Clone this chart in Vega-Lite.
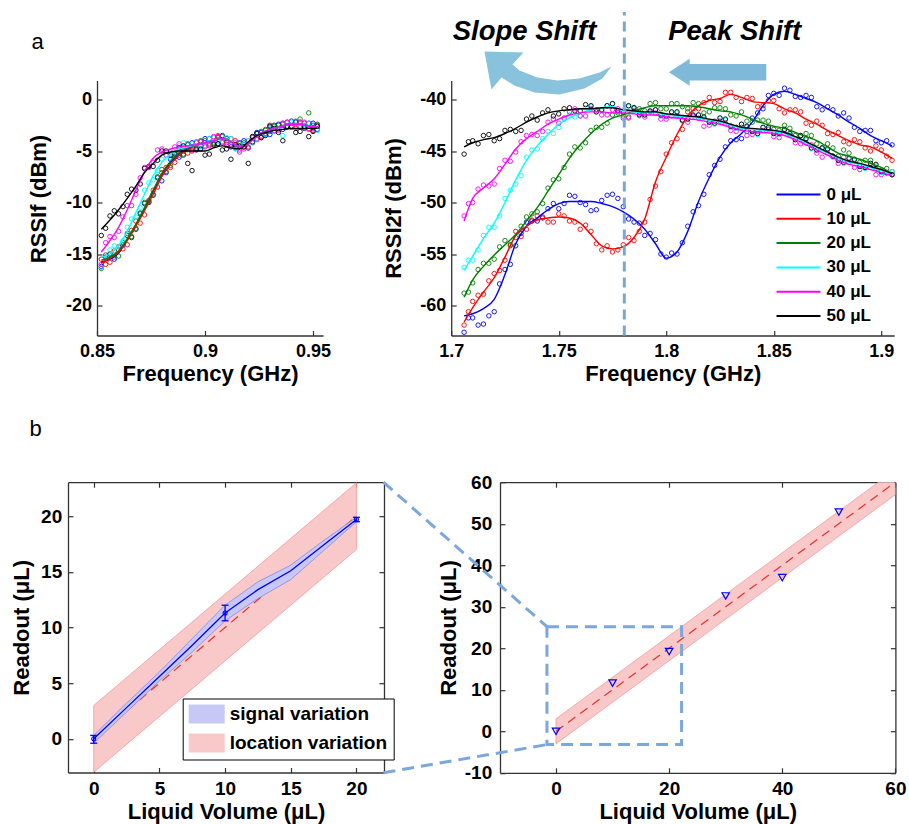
{
"$schema": "https://vega.github.io/schema/vega-lite/v6.json",
"background": "white",
"padding": {"left": 10, "top": 9.5, "right": 4, "bottom": 4},
"autosize": {"type": "pad"},
"config": {
  "view": {"stroke": null},
  "font": "Liberation Sans",
  "locale": {"number": {"decimal": ".", "thousands": ",", "grouping": [3], "currency": ["$", ""], "minus": "-"}},
  "axis": {"grid": false, "labelFont": "Liberation Sans", "labelFontWeight": "bold", "labelColor": "#000", "labelFontSize": 18, "titleFont": "Liberation Sans", "titleFontWeight": "bold", "titleColor": "#000", "titleFontSize": 22, "domainColor": "#333", "domainWidth": 1.3, "tickColor": "#333", "tickWidth": 1.2, "tickSize": -5, "labelFlush": false, "labelOverlap": false}
},
"datasets": {
"tl": [
{"s":"0 μL","f":0.852,"y":-15.8,"o":-16.2},{"s":"0 μL","f":0.856,"y":-15.5,"o":-15.0},{"s":"0 μL","f":0.86,"y":-14.9,"o":-14.6},{"s":"0 μL","f":0.864,"y":-13.6,"o":-13.2},{"s":"0 μL","f":0.868,"y":-12.2,"o":-12.6},{"s":"0 μL","f":0.872,"y":-10.6,"o":-10.1},{"s":"0 μL","f":0.876,"y":-8.9,"o":-9.3},{"s":"0 μL","f":0.88,"y":-7.3,"o":-7.9},{"s":"0 μL","f":0.884,"y":-6.1,"o":-5.8},{"s":"0 μL","f":0.888,"y":-5.3,"o":-5.6},{"s":"0 μL","f":0.892,"y":-4.8,"o":-4.4},{"s":"0 μL","f":0.896,"y":-4.4,"o":-4.9},{"s":"0 μL","f":0.9,"y":-4.2,"o":-3.8},{"s":"0 μL","f":0.904,"y":-4.0,"o":-4.3},{"s":"0 μL","f":0.908,"y":-3.8,"o":-3.5},{"s":"0 μL","f":0.912,"y":-4.1,"o":-4.6},{"s":"0 μL","f":0.916,"y":-4.6,"o":-4.2},{"s":"0 μL","f":0.92,"y":-4.3,"o":-4.7},{"s":"0 μL","f":0.924,"y":-3.5,"o":-3.2},{"s":"0 μL","f":0.928,"y":-3.1,"o":-3.4},{"s":"0 μL","f":0.932,"y":-2.8,"o":-2.5},{"s":"0 μL","f":0.936,"y":-2.6,"o":-2.9},{"s":"0 μL","f":0.94,"y":-2.4,"o":-2.1},{"s":"0 μL","f":0.944,"y":-2.4,"o":-2.7},{"s":"0 μL","f":0.948,"y":-2.6,"o":-2.3},{"s":"0 μL","f":0.952,"y":-2.7,"o":-2.9},
{"s":"10 μL","f":0.852,"y":-15.9,"o":-15.5},{"s":"10 μL","f":0.856,"y":-15.4,"o":-15.8},{"s":"10 μL","f":0.86,"y":-14.8,"o":-14.3},{"s":"10 μL","f":0.864,"y":-13.7,"o":-14.1},{"s":"10 μL","f":0.868,"y":-12.3,"o":-11.8},{"s":"10 μL","f":0.872,"y":-10.8,"o":-11.2},{"s":"10 μL","f":0.876,"y":-9.2,"o":-8.8},{"s":"10 μL","f":0.88,"y":-7.5,"o":-7.1},{"s":"10 μL","f":0.884,"y":-6.3,"o":-6.6},{"s":"10 μL","f":0.888,"y":-5.4,"o":-5.0},{"s":"10 μL","f":0.892,"y":-4.9,"o":-5.2},{"s":"10 μL","f":0.896,"y":-4.4,"o":-4.1},{"s":"10 μL","f":0.9,"y":-4.2,"o":-4.5},{"s":"10 μL","f":0.904,"y":-4.0,"o":-3.7},{"s":"10 μL","f":0.908,"y":-3.8,"o":-4.1},{"s":"10 μL","f":0.912,"y":-4.1,"o":-3.8},{"s":"10 μL","f":0.916,"y":-4.6,"o":-4.9},{"s":"10 μL","f":0.92,"y":-4.3,"o":-4.0},{"s":"10 μL","f":0.924,"y":-3.5,"o":-3.8},{"s":"10 μL","f":0.928,"y":-3.1,"o":-2.9},{"s":"10 μL","f":0.932,"y":-2.8,"o":-3.1},{"s":"10 μL","f":0.936,"y":-2.6,"o":-2.4},{"s":"10 μL","f":0.94,"y":-2.4,"o":-2.7},{"s":"10 μL","f":0.944,"y":-2.4,"o":-2.2},{"s":"10 μL","f":0.948,"y":-2.6,"o":-2.8},{"s":"10 μL","f":0.952,"y":-2.7,"o":-2.5},
{"s":"20 μL","f":0.852,"y":-15.6,"o":-16.4},{"s":"20 μL","f":0.856,"y":-15.3,"o":-15.0},{"s":"20 μL","f":0.86,"y":-14.7,"o":-15.2},{"s":"20 μL","f":0.864,"y":-13.5,"o":-13.0},{"s":"20 μL","f":0.868,"y":-12.1,"o":-12.5},{"s":"20 μL","f":0.872,"y":-10.5,"o":-10.0},{"s":"20 μL","f":0.876,"y":-8.8,"o":-9.2},{"s":"20 μL","f":0.88,"y":-7.2,"o":-6.8},{"s":"20 μL","f":0.884,"y":-6.0,"o":-6.4},{"s":"20 μL","f":0.888,"y":-5.2,"o":-5.4},{"s":"20 μL","f":0.892,"y":-4.7,"o":-4.3},{"s":"20 μL","f":0.896,"y":-4.4,"o":-4.7},{"s":"20 μL","f":0.9,"y":-4.2,"o":-4.0},{"s":"20 μL","f":0.904,"y":-4.0,"o":-4.2},{"s":"20 μL","f":0.908,"y":-3.8,"o":-3.6},{"s":"20 μL","f":0.912,"y":-4.1,"o":-4.4},{"s":"20 μL","f":0.916,"y":-4.6,"o":-4.3},{"s":"20 μL","f":0.92,"y":-4.3,"o":-4.6},{"s":"20 μL","f":0.924,"y":-3.5,"o":-3.3},{"s":"20 μL","f":0.928,"y":-3.1,"o":-3.0},{"s":"20 μL","f":0.932,"y":-2.8,"o":-2.6},{"s":"20 μL","f":0.936,"y":-2.6,"o":-2.3},{"s":"20 μL","f":0.94,"y":-2.4,"o":-2.6},{"s":"20 μL","f":0.944,"y":-2.4,"o":-1.9},{"s":"20 μL","f":0.948,"y":-2.6,"o":-1.3},{"s":"20 μL","f":0.952,"y":-2.7,"o":-2.4},
{"s":"30 μL","f":0.852,"y":-15.3,"o":-16.3},{"s":"30 μL","f":0.856,"y":-15.0,"o":-14.6},{"s":"30 μL","f":0.86,"y":-14.2,"o":-14.6},{"s":"30 μL","f":0.864,"y":-12.8,"o":-12.4},{"s":"30 μL","f":0.868,"y":-11.0,"o":-11.4},{"s":"30 μL","f":0.872,"y":-9.2,"o":-8.8},{"s":"30 μL","f":0.876,"y":-7.4,"o":-7.8},{"s":"30 μL","f":0.88,"y":-6.1,"o":-5.8},{"s":"30 μL","f":0.884,"y":-5.3,"o":-5.6},{"s":"30 μL","f":0.888,"y":-4.8,"o":-4.5},{"s":"30 μL","f":0.892,"y":-4.6,"o":-4.9},{"s":"30 μL","f":0.896,"y":-4.4,"o":-4.1},{"s":"30 μL","f":0.9,"y":-4.2,"o":-4.5},{"s":"30 μL","f":0.904,"y":-4.0,"o":-3.7},{"s":"30 μL","f":0.908,"y":-3.8,"o":-4.1},{"s":"30 μL","f":0.912,"y":-4.1,"o":-3.8},{"s":"30 μL","f":0.916,"y":-4.6,"o":-4.9},{"s":"30 μL","f":0.92,"y":-4.3,"o":-4.0},{"s":"30 μL","f":0.924,"y":-3.5,"o":-3.8},{"s":"30 μL","f":0.928,"y":-3.1,"o":-3.4},{"s":"30 μL","f":0.932,"y":-2.8,"o":-3.1},{"s":"30 μL","f":0.936,"y":-2.6,"o":-3.5},{"s":"30 μL","f":0.94,"y":-2.4,"o":-2.2},{"s":"30 μL","f":0.944,"y":-2.4,"o":-2.7},{"s":"30 μL","f":0.948,"y":-2.6,"o":-2.3},{"s":"30 μL","f":0.952,"y":-2.7,"o":-3.0},
{"s":"40 μL","f":0.852,"y":-14.8,"o":-16.0},{"s":"40 μL","f":0.856,"y":-13.7,"o":-13.3},{"s":"40 μL","f":0.86,"y":-12.4,"o":-12.8},{"s":"40 μL","f":0.864,"y":-10.7,"o":-10.3},{"s":"40 μL","f":0.868,"y":-8.8,"o":-9.2},{"s":"40 μL","f":0.872,"y":-7.0,"o":-6.6},{"s":"40 μL","f":0.876,"y":-5.7,"o":-6.1},{"s":"40 μL","f":0.88,"y":-5.1,"o":-4.8},{"s":"40 μL","f":0.884,"y":-4.8,"o":-5.1},{"s":"40 μL","f":0.888,"y":-4.6,"o":-4.3},{"s":"40 μL","f":0.892,"y":-4.5,"o":-4.8},{"s":"40 μL","f":0.896,"y":-4.4,"o":-4.2},{"s":"40 μL","f":0.9,"y":-4.2,"o":-4.6},{"s":"40 μL","f":0.904,"y":-4.0,"o":-3.6},{"s":"40 μL","f":0.908,"y":-3.8,"o":-4.2},{"s":"40 μL","f":0.912,"y":-4.1,"o":-4.4},{"s":"40 μL","f":0.916,"y":-4.6,"o":-5.1},{"s":"40 μL","f":0.92,"y":-4.3,"o":-4.7},{"s":"40 μL","f":0.924,"y":-3.5,"o":-3.9},{"s":"40 μL","f":0.928,"y":-3.1,"o":-3.3},{"s":"40 μL","f":0.932,"y":-2.8,"o":-3.0},{"s":"40 μL","f":0.936,"y":-2.6,"o":-2.3},{"s":"40 μL","f":0.94,"y":-2.4,"o":-2.7},{"s":"40 μL","f":0.944,"y":-2.4,"o":-2.2},{"s":"40 μL","f":0.948,"y":-2.6,"o":-2.9},{"s":"40 μL","f":0.952,"y":-2.7,"o":-2.5},
{"s":"50 μL","f":0.852,"y":-12.6,"o":-13.2},{"s":"50 μL","f":0.856,"y":-11.7,"o":-11.3},{"s":"50 μL","f":0.86,"y":-10.7,"o":-11.1},{"s":"50 μL","f":0.864,"y":-9.6,"o":-9.2},{"s":"50 μL","f":0.868,"y":-8.4,"o":-8.8},{"s":"50 μL","f":0.872,"y":-7.1,"o":-6.7},{"s":"50 μL","f":0.876,"y":-6.2,"o":-6.5},{"s":"50 μL","f":0.88,"y":-5.4,"o":-5.0},{"s":"50 μL","f":0.884,"y":-5.1,"o":-5.4},{"s":"50 μL","f":0.888,"y":-5.0,"o":-4.7},{"s":"50 μL","f":0.892,"y":-5.0,"o":-6.2},{"s":"50 μL","f":0.896,"y":-5.0,"o":-4.8},{"s":"50 μL","f":0.9,"y":-5.0,"o":-5.4},{"s":"50 μL","f":0.904,"y":-4.7,"o":-4.4},{"s":"50 μL","f":0.908,"y":-4.5,"o":-4.9},{"s":"50 μL","f":0.912,"y":-4.7,"o":-5.8},{"s":"50 μL","f":0.916,"y":-4.8,"o":-4.5},{"s":"50 μL","f":0.92,"y":-4.1,"o":-6.2},{"s":"50 μL","f":0.924,"y":-3.5,"o":-3.3},{"s":"50 μL","f":0.928,"y":-3.2,"o":-3.5},{"s":"50 μL","f":0.932,"y":-3.0,"o":-2.8},{"s":"50 μL","f":0.936,"y":-2.9,"o":-4.0},{"s":"50 μL","f":0.94,"y":-2.8,"o":-2.6},{"s":"50 μL","f":0.944,"y":-2.8,"o":-3.1},{"s":"50 μL","f":0.948,"y":-2.8,"o":-3.6},{"s":"50 μL","f":0.952,"y":-2.8,"o":-2.6}
],
"tlm": [
{"s":"0 μL","f":0.854,"o":-15.3},{"s":"0 μL","f":0.858,"o":-15.5},{"s":"0 μL","f":0.862,"o":-14.1},{"s":"0 μL","f":0.866,"o":-13.4},{"s":"0 μL","f":0.87,"o":-11.1},{"s":"0 μL","f":0.874,"o":-10.0},{"s":"0 μL","f":0.878,"o":-7.6},{"s":"0 μL","f":0.882,"o":-7.1},{"s":"0 μL","f":0.886,"o":-5.6},{"s":"0 μL","f":0.89,"o":-5.4},{"s":"0 μL","f":0.894,"o":-4.2},{"s":"0 μL","f":0.898,"o":-4.5},{"s":"0 μL","f":0.902,"o":-3.8},{"s":"0 μL","f":0.906,"o":-4.3},{"s":"0 μL","f":0.91,"o":-3.8},{"s":"0 μL","f":0.914,"o":-4.7},{"s":"0 μL","f":0.918,"o":-4.0},{"s":"0 μL","f":0.922,"o":-4.1},{"s":"0 μL","f":0.926,"o":-3.2},{"s":"0 μL","f":0.93,"o":-3.4},{"s":"0 μL","f":0.934,"o":-2.4},{"s":"0 μL","f":0.938,"o":-2.6},{"s":"0 μL","f":0.942,"o":-2.2},{"s":"0 μL","f":0.946,"o":-2.8},{"s":"0 μL","f":0.95,"o":-2.3},
{"s":"10 μL","f":0.854,"o":-16.0},{"s":"10 μL","f":0.858,"o":-14.7},{"s":"10 μL","f":0.862,"o":-14.5},{"s":"10 μL","f":0.866,"o":-12.7},{"s":"10 μL","f":0.87,"o":-12.0},{"s":"10 μL","f":0.874,"o":-9.8},{"s":"10 μL","f":0.878,"o":-8.5},{"s":"10 μL","f":0.882,"o":-6.6},{"s":"10 μL","f":0.886,"o":-6.1},{"s":"10 μL","f":0.89,"o":-4.7},{"s":"10 μL","f":0.894,"o":-5.0},{"s":"10 μL","f":0.898,"o":-4.1},{"s":"10 μL","f":0.902,"o":-4.5},{"s":"10 μL","f":0.906,"o":-3.6},{"s":"10 μL","f":0.91,"o":-4.2},{"s":"10 μL","f":0.914,"o":-4.0},{"s":"10 μL","f":0.918,"o":-4.6},{"s":"10 μL","f":0.922,"o":-3.7},{"s":"10 μL","f":0.926,"o":-3.6},{"s":"10 μL","f":0.93,"o":-2.5},{"s":"10 μL","f":0.934,"o":-2.9},{"s":"10 μL","f":0.938,"o":-2.2},{"s":"10 μL","f":0.942,"o":-2.8},{"s":"10 μL","f":0.946,"o":-2.3},{"s":"10 μL","f":0.95,"o":-3.0},
{"s":"20 μL","f":0.854,"o":-15.1},{"s":"20 μL","f":0.858,"o":-15.3},{"s":"20 μL","f":0.862,"o":-13.9},{"s":"20 μL","f":0.866,"o":-13.3},{"s":"20 μL","f":0.87,"o":-11.0},{"s":"20 μL","f":0.874,"o":-9.9},{"s":"20 μL","f":0.878,"o":-7.5},{"s":"20 μL","f":0.882,"o":-7.0},{"s":"20 μL","f":0.886,"o":-5.5},{"s":"20 μL","f":0.89,"o":-5.3},{"s":"20 μL","f":0.894,"o":-4.7},{"s":"20 μL","f":0.898,"o":-4.0},{"s":"20 μL","f":0.902,"o":-4.3},{"s":"20 μL","f":0.906,"o":-3.7},{"s":"20 μL","f":0.91,"o":-4.0},{"s":"20 μL","f":0.914,"o":-4.6},{"s":"20 μL","f":0.918,"o":-4.2},{"s":"20 μL","f":0.922,"o":-4.2},{"s":"20 μL","f":0.926,"o":-3.1},{"s":"20 μL","f":0.93,"o":-3.1},{"s":"20 μL","f":0.934,"o":-2.5},{"s":"20 μL","f":0.938,"o":-2.7},{"s":"20 μL","f":0.942,"o":-2.1},{"s":"20 μL","f":0.946,"o":-2.7},{"s":"20 μL","f":0.95,"o":-2.5},
{"s":"30 μL","f":0.854,"o":-15.5},{"s":"30 μL","f":0.858,"o":-14.2},{"s":"30 μL","f":0.862,"o":-13.7},{"s":"30 μL","f":0.866,"o":-11.6},{"s":"30 μL","f":0.87,"o":-10.5},{"s":"30 μL","f":0.874,"o":-8.1},{"s":"30 μL","f":0.878,"o":-6.9},{"s":"30 μL","f":0.882,"o":-5.4},{"s":"30 μL","f":0.886,"o":-5.3},{"s":"30 μL","f":0.89,"o":-4.2},{"s":"30 μL","f":0.894,"o":-4.3},{"s":"30 μL","f":0.898,"o":-4.6},{"s":"30 μL","f":0.902,"o":-3.8},{"s":"30 μL","f":0.906,"o":-4.1},{"s":"30 μL","f":0.91,"o":-3.7},{"s":"30 μL","f":0.914,"o":-4.8},{"s":"30 μL","f":0.918,"o":-4.3},{"s":"30 μL","f":0.922,"o":-3.6},{"s":"30 μL","f":0.926,"o":-3.5},{"s":"30 μL","f":0.93,"o":-2.8},{"s":"30 μL","f":0.934,"o":-2.9},{"s":"30 μL","f":0.938,"o":-2.3},{"s":"30 μL","f":0.942,"o":-2.6},{"s":"30 μL","f":0.946,"o":-2.4},{"s":"30 μL","f":0.95,"o":-2.9},
{"s":"40 μL","f":0.854,"o":-13.9},{"s":"40 μL","f":0.858,"o":-13.4},{"s":"40 μL","f":0.862,"o":-11.4},{"s":"40 μL","f":0.866,"o":-10.3},{"s":"40 μL","f":0.87,"o":-7.6},{"s":"40 μL","f":0.874,"o":-6.6},{"s":"40 μL","f":0.878,"o":-4.9},{"s":"40 μL","f":0.882,"o":-5.4},{"s":"40 μL","f":0.886,"o":-4.6},{"s":"40 μL","f":0.89,"o":-4.9},{"s":"40 μL","f":0.894,"o":-4.9},{"s":"40 μL","f":0.898,"o":-4.1},{"s":"40 μL","f":0.902,"o":-4.4},{"s":"40 μL","f":0.906,"o":-3.5},{"s":"40 μL","f":0.91,"o":-4.4},{"s":"40 μL","f":0.914,"o":-4.2},{"s":"40 μL","f":0.918,"o":-4.8},{"s":"40 μL","f":0.922,"o":-3.6},{"s":"40 μL","f":0.926,"o":-3.7},{"s":"40 μL","f":0.93,"o":-2.7},{"s":"40 μL","f":0.934,"o":-3.0},{"s":"40 μL","f":0.938,"o":-2.2},{"s":"40 μL","f":0.942,"o":-2.7},{"s":"40 μL","f":0.946,"o":-2.2},{"s":"40 μL","f":0.95,"o":-2.8},
{"s":"50 μL","f":0.854,"o":-12.5},{"s":"50 μL","f":0.858,"o":-10.8},{"s":"50 μL","f":0.862,"o":-10.4},{"s":"50 μL","f":0.866,"o":-8.7},{"s":"50 μL","f":0.87,"o":-8.2},{"s":"50 μL","f":0.874,"o":-6.5},{"s":"50 μL","f":0.878,"o":-5.9},{"s":"50 μL","f":0.882,"o":-5.0},{"s":"50 μL","f":0.886,"o":-5.3},{"s":"50 μL","f":0.89,"o":-4.5},{"s":"50 μL","f":0.894,"o":-6.9},{"s":"50 μL","f":0.898,"o":-4.8},{"s":"50 μL","f":0.902,"o":-5.3},{"s":"50 μL","f":0.906,"o":-4.3},{"s":"50 μL","f":0.91,"o":-4.8},{"s":"50 μL","f":0.914,"o":-4.4},{"s":"50 μL","f":0.918,"o":-4.6},{"s":"50 μL","f":0.922,"o":-3.6},{"s":"50 μL","f":0.926,"o":-3.7},{"s":"50 μL","f":0.93,"o":-2.6},{"s":"50 μL","f":0.934,"o":-3.2},{"s":"50 μL","f":0.938,"o":-2.6},{"s":"50 μL","f":0.942,"o":-3.2},{"s":"50 μL","f":0.946,"o":-2.6},{"s":"50 μL","f":0.95,"o":-3.1}
],
"tr": [
{"s":"0 μL","f":1.706,"y":-61.0,"o":-62.6},{"s":"0 μL","f":1.71,"y":-60.8,"o":-61.2},{"s":"0 μL","f":1.715,"y":-60.3,"o":-61.8},{"s":"0 μL","f":1.72,"y":-59.4,"o":-60.6},{"s":"0 μL","f":1.725,"y":-57.0,"o":-56.5},{"s":"0 μL","f":1.73,"y":-54.0,"o":-54.2},{"s":"0 μL","f":1.735,"y":-52.3,"o":-51.9},{"s":"0 μL","f":1.74,"y":-51.5,"o":-51.8},{"s":"0 μL","f":1.745,"y":-50.7,"o":-50.6},{"s":"0 μL","f":1.75,"y":-50.1,"o":-50.6},{"s":"0 μL","f":1.755,"y":-49.9,"o":-49.3},{"s":"0 μL","f":1.76,"y":-49.9,"o":-50.0},{"s":"0 μL","f":1.765,"y":-49.9,"o":-50.8},{"s":"0 μL","f":1.77,"y":-50.1,"o":-49.8},{"s":"0 μL","f":1.775,"y":-50.4,"o":-49.2},{"s":"0 μL","f":1.78,"y":-50.9,"o":-50.4},{"s":"0 μL","f":1.785,"y":-51.6,"o":-51.9},{"s":"0 μL","f":1.79,"y":-52.6,"o":-53.2},{"s":"0 μL","f":1.795,"y":-54.0,"o":-53.6},{"s":"0 μL","f":1.8,"y":-55.4,"o":-55.3},{"s":"0 μL","f":1.805,"y":-54.8,"o":-55.0},{"s":"0 μL","f":1.81,"y":-52.8,"o":-52.3},{"s":"0 μL","f":1.815,"y":-49.9,"o":-50.3},{"s":"0 μL","f":1.82,"y":-47.6,"o":-47.3},{"s":"0 μL","f":1.825,"y":-45.6,"o":-45.8},{"s":"0 μL","f":1.83,"y":-44.2,"o":-44.0},{"s":"0 μL","f":1.835,"y":-43.3,"o":-43.8},{"s":"0 μL","f":1.84,"y":-42.2,"o":-41.8},{"s":"0 μL","f":1.845,"y":-40.6,"o":-40.9},{"s":"0 μL","f":1.85,"y":-39.5,"o":-39.4},{"s":"0 μL","f":1.855,"y":-39.2,"o":-38.9},{"s":"0 μL","f":1.86,"y":-39.5,"o":-39.7},{"s":"0 μL","f":1.865,"y":-39.9,"o":-39.6},{"s":"0 μL","f":1.87,"y":-40.3,"o":-40.7},{"s":"0 μL","f":1.875,"y":-40.9,"o":-40.7},{"s":"0 μL","f":1.88,"y":-41.5,"o":-41.6},{"s":"0 μL","f":1.885,"y":-42.2,"o":-41.8},{"s":"0 μL","f":1.89,"y":-42.8,"o":-43.1},{"s":"0 μL","f":1.895,"y":-43.5,"o":-43.0},{"s":"0 μL","f":1.9,"y":-44.0,"o":-44.2},{"s":"0 μL","f":1.905,"y":-44.5,"o":-44.4},
{"s":"10 μL","f":1.706,"y":-61.6,"o":-61.9},{"s":"10 μL","f":1.71,"y":-60.2,"o":-59.6},{"s":"10 μL","f":1.715,"y":-58.7,"o":-58.9},{"s":"10 μL","f":1.72,"y":-57.3,"o":-56.9},{"s":"10 μL","f":1.725,"y":-55.3,"o":-55.6},{"s":"10 μL","f":1.73,"y":-53.2,"o":-52.8},{"s":"10 μL","f":1.735,"y":-52.3,"o":-52.6},{"s":"10 μL","f":1.74,"y":-51.7,"o":-51.3},{"s":"10 μL","f":1.745,"y":-51.5,"o":-51.9},{"s":"10 μL","f":1.75,"y":-51.4,"o":-51.1},{"s":"10 μL","f":1.755,"y":-51.5,"o":-51.8},{"s":"10 μL","f":1.76,"y":-52.0,"o":-52.6},{"s":"10 μL","f":1.765,"y":-53.1,"o":-52.8},{"s":"10 μL","f":1.77,"y":-54.2,"o":-54.6},{"s":"10 μL","f":1.775,"y":-54.5,"o":-54.8},{"s":"10 μL","f":1.78,"y":-54.3,"o":-54.1},{"s":"10 μL","f":1.785,"y":-53.4,"o":-53.7},{"s":"10 μL","f":1.79,"y":-51.6,"o":-51.9},{"s":"10 μL","f":1.795,"y":-48.0,"o":-48.4},{"s":"10 μL","f":1.8,"y":-45.6,"o":-45.3},{"s":"10 μL","f":1.805,"y":-43.4,"o":-43.8},{"s":"10 μL","f":1.81,"y":-41.6,"o":-41.2},{"s":"10 μL","f":1.815,"y":-40.6,"o":-40.9},{"s":"10 μL","f":1.82,"y":-40.1,"o":-39.8},{"s":"10 μL","f":1.825,"y":-39.9,"o":-40.2},{"s":"10 μL","f":1.83,"y":-39.5,"o":-39.3},{"s":"10 μL","f":1.835,"y":-39.8,"o":-40.2},{"s":"10 μL","f":1.84,"y":-40.2,"o":-39.9},{"s":"10 μL","f":1.845,"y":-40.3,"o":-40.6},{"s":"10 μL","f":1.85,"y":-40.4,"o":-40.1},{"s":"10 μL","f":1.855,"y":-40.9,"o":-41.3},{"s":"10 μL","f":1.86,"y":-41.3,"o":-41.0},{"s":"10 μL","f":1.865,"y":-41.9,"o":-42.3},{"s":"10 μL","f":1.87,"y":-42.4,"o":-42.1},{"s":"10 μL","f":1.875,"y":-43.0,"o":-43.3},{"s":"10 μL","f":1.88,"y":-43.5,"o":-43.2},{"s":"10 μL","f":1.885,"y":-44.0,"o":-44.3},{"s":"10 μL","f":1.89,"y":-44.4,"o":-44.1},{"s":"10 μL","f":1.895,"y":-44.6,"o":-45.0},{"s":"10 μL","f":1.9,"y":-45.1,"o":-44.9},{"s":"10 μL","f":1.905,"y":-45.7,"o":-45.9},
{"s":"20 μL","f":1.706,"y":-59.2,"o":-58.8},{"s":"20 μL","f":1.71,"y":-57.5,"o":-57.8},{"s":"20 μL","f":1.715,"y":-56.2,"o":-55.9},{"s":"20 μL","f":1.72,"y":-55.1,"o":-55.5},{"s":"20 μL","f":1.725,"y":-54.1,"o":-53.7},{"s":"20 μL","f":1.73,"y":-53.1,"o":-53.4},{"s":"20 μL","f":1.735,"y":-51.8,"o":-51.4},{"s":"20 μL","f":1.74,"y":-50.5,"o":-50.9},{"s":"20 μL","f":1.745,"y":-48.9,"o":-48.6},{"s":"20 μL","f":1.75,"y":-47.3,"o":-47.7},{"s":"20 μL","f":1.755,"y":-45.7,"o":-45.3},{"s":"20 μL","f":1.76,"y":-44.4,"o":-44.7},{"s":"20 μL","f":1.765,"y":-43.3,"o":-43.0},{"s":"20 μL","f":1.77,"y":-42.4,"o":-42.7},{"s":"20 μL","f":1.775,"y":-41.8,"o":-41.5},{"s":"20 μL","f":1.78,"y":-41.5,"o":-41.8},{"s":"20 μL","f":1.785,"y":-41.1,"o":-40.8},{"s":"20 μL","f":1.79,"y":-40.8,"o":-41.1},{"s":"20 μL","f":1.795,"y":-40.6,"o":-40.3},{"s":"20 μL","f":1.8,"y":-40.6,"o":-40.9},{"s":"20 μL","f":1.805,"y":-40.6,"o":-40.4},{"s":"20 μL","f":1.81,"y":-40.6,"o":-40.9},{"s":"20 μL","f":1.815,"y":-40.7,"o":-40.4},{"s":"20 μL","f":1.82,"y":-40.9,"o":-41.2},{"s":"20 μL","f":1.825,"y":-41.1,"o":-40.8},{"s":"20 μL","f":1.83,"y":-41.2,"o":-41.5},{"s":"20 μL","f":1.835,"y":-41.5,"o":-41.2},{"s":"20 μL","f":1.84,"y":-41.9,"o":-42.2},{"s":"20 μL","f":1.845,"y":-42.3,"o":-42.0},{"s":"20 μL","f":1.85,"y":-42.6,"o":-42.9},{"s":"20 μL","f":1.855,"y":-42.8,"o":-42.5},{"s":"20 μL","f":1.86,"y":-43.2,"o":-43.5},{"s":"20 μL","f":1.865,"y":-43.6,"o":-43.3},{"s":"20 μL","f":1.87,"y":-44.0,"o":-44.3},{"s":"20 μL","f":1.875,"y":-44.6,"o":-44.3},{"s":"20 μL","f":1.88,"y":-45.2,"o":-45.5},{"s":"20 μL","f":1.885,"y":-45.5,"o":-45.2},{"s":"20 μL","f":1.89,"y":-45.8,"o":-46.1},{"s":"20 μL","f":1.895,"y":-46.2,"o":-45.9},{"s":"20 μL","f":1.9,"y":-46.6,"o":-46.9},{"s":"20 μL","f":1.905,"y":-47.2,"o":-47.0},
{"s":"30 μL","f":1.706,"y":-56.6,"o":-56.3},{"s":"30 μL","f":1.71,"y":-55.2,"o":-55.6},{"s":"30 μL","f":1.715,"y":-53.5,"o":-53.2},{"s":"30 μL","f":1.72,"y":-52.0,"o":-52.4},{"s":"30 μL","f":1.725,"y":-50.0,"o":-49.6},{"s":"30 μL","f":1.73,"y":-47.8,"o":-48.2},{"s":"30 μL","f":1.735,"y":-45.9,"o":-45.6},{"s":"30 μL","f":1.74,"y":-44.5,"o":-44.8},{"s":"30 μL","f":1.745,"y":-43.4,"o":-43.1},{"s":"30 μL","f":1.75,"y":-42.4,"o":-42.7},{"s":"30 μL","f":1.755,"y":-41.8,"o":-41.5},{"s":"30 μL","f":1.76,"y":-41.3,"o":-41.6},{"s":"30 μL","f":1.765,"y":-41.0,"o":-40.7},{"s":"30 μL","f":1.77,"y":-40.8,"o":-41.1},{"s":"30 μL","f":1.775,"y":-40.7,"o":-40.4},{"s":"30 μL","f":1.78,"y":-41.1,"o":-41.3},{"s":"30 μL","f":1.785,"y":-41.2,"o":-40.9},{"s":"30 μL","f":1.79,"y":-41.3,"o":-41.5},{"s":"30 μL","f":1.795,"y":-41.3,"o":-41.0},{"s":"30 μL","f":1.8,"y":-41.5,"o":-41.7},{"s":"30 μL","f":1.805,"y":-41.6,"o":-41.3},{"s":"30 μL","f":1.81,"y":-41.7,"o":-41.9},{"s":"30 μL","f":1.815,"y":-41.8,"o":-41.5},{"s":"30 μL","f":1.82,"y":-42.0,"o":-42.2},{"s":"30 μL","f":1.825,"y":-42.2,"o":-41.8},{"s":"30 μL","f":1.83,"y":-42.5,"o":-42.7},{"s":"30 μL","f":1.835,"y":-42.8,"o":-42.4},{"s":"30 μL","f":1.84,"y":-42.9,"o":-43.1},{"s":"30 μL","f":1.845,"y":-43.0,"o":-42.7},{"s":"30 μL","f":1.85,"y":-43.1,"o":-43.3},{"s":"30 μL","f":1.855,"y":-43.3,"o":-43.0},{"s":"30 μL","f":1.86,"y":-43.7,"o":-43.9},{"s":"30 μL","f":1.865,"y":-44.2,"o":-43.9},{"s":"30 μL","f":1.87,"y":-44.7,"o":-44.9},{"s":"30 μL","f":1.875,"y":-45.2,"o":-44.9},{"s":"30 μL","f":1.88,"y":-45.7,"o":-45.9},{"s":"30 μL","f":1.885,"y":-46.1,"o":-45.8},{"s":"30 μL","f":1.89,"y":-46.3,"o":-46.5},{"s":"30 μL","f":1.895,"y":-46.6,"o":-46.3},{"s":"30 μL","f":1.9,"y":-46.9,"o":-47.1},{"s":"30 μL","f":1.905,"y":-47.3,"o":-47.0},
{"s":"40 μL","f":1.706,"y":-51.8,"o":-51.3},{"s":"40 μL","f":1.71,"y":-49.6,"o":-50.0},{"s":"40 μL","f":1.715,"y":-48.6,"o":-48.3},{"s":"40 μL","f":1.72,"y":-47.7,"o":-48.2},{"s":"40 μL","f":1.725,"y":-46.3,"o":-45.9},{"s":"40 μL","f":1.73,"y":-44.8,"o":-45.1},{"s":"40 μL","f":1.735,"y":-43.8,"o":-43.5},{"s":"40 μL","f":1.74,"y":-43.1,"o":-43.5},{"s":"40 μL","f":1.745,"y":-42.4,"o":-42.2},{"s":"40 μL","f":1.75,"y":-41.9,"o":-42.3},{"s":"40 μL","f":1.755,"y":-41.5,"o":-41.2},{"s":"40 μL","f":1.76,"y":-41.3,"o":-41.6},{"s":"40 μL","f":1.765,"y":-41.2,"o":-40.9},{"s":"40 μL","f":1.77,"y":-41.2,"o":-41.5},{"s":"40 μL","f":1.775,"y":-41.3,"o":-41.0},{"s":"40 μL","f":1.78,"y":-41.3,"o":-41.6},{"s":"40 μL","f":1.785,"y":-41.4,"o":-41.1},{"s":"40 μL","f":1.79,"y":-41.5,"o":-41.7},{"s":"40 μL","f":1.795,"y":-41.5,"o":-41.3},{"s":"40 μL","f":1.8,"y":-41.7,"o":-41.9},{"s":"40 μL","f":1.805,"y":-41.8,"o":-41.6},{"s":"40 μL","f":1.81,"y":-41.9,"o":-42.2},{"s":"40 μL","f":1.815,"y":-42.0,"o":-41.8},{"s":"40 μL","f":1.82,"y":-42.2,"o":-42.5},{"s":"40 μL","f":1.825,"y":-42.4,"o":-42.1},{"s":"40 μL","f":1.83,"y":-42.7,"o":-43.0},{"s":"40 μL","f":1.835,"y":-43.0,"o":-42.7},{"s":"40 μL","f":1.84,"y":-43.1,"o":-43.4},{"s":"40 μL","f":1.845,"y":-43.2,"o":-43.0},{"s":"40 μL","f":1.85,"y":-43.3,"o":-43.6},{"s":"40 μL","f":1.855,"y":-43.5,"o":-43.3},{"s":"40 μL","f":1.86,"y":-43.9,"o":-44.2},{"s":"40 μL","f":1.865,"y":-44.4,"o":-44.2},{"s":"40 μL","f":1.87,"y":-44.9,"o":-45.2},{"s":"40 μL","f":1.875,"y":-45.4,"o":-45.2},{"s":"40 μL","f":1.88,"y":-45.9,"o":-46.2},{"s":"40 μL","f":1.885,"y":-46.3,"o":-46.1},{"s":"40 μL","f":1.89,"y":-46.5,"o":-46.8},{"s":"40 μL","f":1.895,"y":-46.8,"o":-46.6},{"s":"40 μL","f":1.9,"y":-47.1,"o":-47.3},{"s":"40 μL","f":1.905,"y":-47.4,"o":-47.3},
{"s":"50 μL","f":1.706,"y":-44.6,"o":-45.3},{"s":"50 μL","f":1.71,"y":-44.2,"o":-44.0},{"s":"50 μL","f":1.715,"y":-43.9,"o":-43.5},{"s":"50 μL","f":1.72,"y":-43.7,"o":-44.0},{"s":"50 μL","f":1.725,"y":-43.3,"o":-43.0},{"s":"50 μL","f":1.73,"y":-42.8,"o":-43.1},{"s":"50 μL","f":1.735,"y":-42.2,"o":-41.9},{"s":"50 μL","f":1.74,"y":-41.7,"o":-42.0},{"s":"50 μL","f":1.745,"y":-41.3,"o":-41.0},{"s":"50 μL","f":1.75,"y":-41.1,"o":-41.4},{"s":"50 μL","f":1.755,"y":-41.0,"o":-40.8},{"s":"50 μL","f":1.76,"y":-40.9,"o":-41.1},{"s":"50 μL","f":1.765,"y":-40.9,"o":-40.6},{"s":"50 μL","f":1.77,"y":-40.8,"o":-41.0},{"s":"50 μL","f":1.775,"y":-40.8,"o":-40.4},{"s":"50 μL","f":1.78,"y":-41.0,"o":-41.2},{"s":"50 μL","f":1.785,"y":-41.1,"o":-40.8},{"s":"50 μL","f":1.79,"y":-41.2,"o":-41.5},{"s":"50 μL","f":1.795,"y":-41.2,"o":-41.0},{"s":"50 μL","f":1.8,"y":-41.4,"o":-41.6},{"s":"50 μL","f":1.805,"y":-41.5,"o":-41.2},{"s":"50 μL","f":1.81,"y":-41.6,"o":-41.9},{"s":"50 μL","f":1.815,"y":-41.7,"o":-41.5},{"s":"50 μL","f":1.82,"y":-41.9,"o":-42.2},{"s":"50 μL","f":1.825,"y":-42.1,"o":-41.8},{"s":"50 μL","f":1.83,"y":-42.4,"o":-42.6},{"s":"50 μL","f":1.835,"y":-42.7,"o":-42.4},{"s":"50 μL","f":1.84,"y":-42.8,"o":-43.1},{"s":"50 μL","f":1.845,"y":-42.9,"o":-42.7},{"s":"50 μL","f":1.85,"y":-43.0,"o":-43.3},{"s":"50 μL","f":1.855,"y":-43.2,"o":-42.9},{"s":"50 μL","f":1.86,"y":-43.6,"o":-43.9},{"s":"50 μL","f":1.865,"y":-44.1,"o":-43.8},{"s":"50 μL","f":1.87,"y":-44.6,"o":-44.9},{"s":"50 μL","f":1.875,"y":-45.1,"o":-44.8},{"s":"50 μL","f":1.88,"y":-45.6,"o":-45.9},{"s":"50 μL","f":1.885,"y":-46.0,"o":-45.7},{"s":"50 μL","f":1.89,"y":-46.2,"o":-46.5},{"s":"50 μL","f":1.895,"y":-46.5,"o":-46.2},{"s":"50 μL","f":1.9,"y":-46.8,"o":-47.0},{"s":"50 μL","f":1.905,"y":-47.2,"o":-47.3}
],
"trm": [
{"s":"0 μL","f":1.708,"o":-61.2},{"s":"0 μL","f":1.7125,"o":-61.9},{"s":"0 μL","f":1.7175,"o":-61.0},{"s":"0 μL","f":1.7225,"o":-57.9},{"s":"0 μL","f":1.7275,"o":-56.0},{"s":"0 μL","f":1.7325,"o":-53.0},{"s":"0 μL","f":1.7375,"o":-51.8},{"s":"0 μL","f":1.7425,"o":-51.5},{"s":"0 μL","f":1.7475,"o":-50.1},{"s":"0 μL","f":1.7525,"o":-50.1},{"s":"0 μL","f":1.7575,"o":-49.4},{"s":"0 μL","f":1.7625,"o":-50.2},{"s":"0 μL","f":1.7675,"o":-50.7},{"s":"0 μL","f":1.7725,"o":-49.3},{"s":"0 μL","f":1.7775,"o":-49.6},{"s":"0 μL","f":1.7825,"o":-51.6},{"s":"0 μL","f":1.7875,"o":-52.0},{"s":"0 μL","f":1.7925,"o":-53.0},{"s":"0 μL","f":1.7975,"o":-55.0},{"s":"0 μL","f":1.8025,"o":-54.9},{"s":"0 μL","f":1.8075,"o":-53.9},{"s":"0 μL","f":1.8125,"o":-50.9},{"s":"0 μL","f":1.8175,"o":-49.2},{"s":"0 μL","f":1.8225,"o":-46.4},{"s":"0 μL","f":1.8275,"o":-44.6},{"s":"0 μL","f":1.8325,"o":-43.9},{"s":"0 μL","f":1.8375,"o":-43.1},{"s":"0 μL","f":1.8425,"o":-41.3},{"s":"0 μL","f":1.8475,"o":-39.6},{"s":"0 μL","f":1.8525,"o":-39.6},{"s":"0 μL","f":1.8575,"o":-39.1},{"s":"0 μL","f":1.8625,"o":-39.8},{"s":"0 μL","f":1.8675,"o":-39.8},{"s":"0 μL","f":1.8725,"o":-41.0},{"s":"0 μL","f":1.8775,"o":-41.0},{"s":"0 μL","f":1.8825,"o":-41.3},{"s":"0 μL","f":1.8875,"o":-42.7},{"s":"0 μL","f":1.8925,"o":-43.0},{"s":"0 μL","f":1.8975,"o":-44.0},{"s":"0 μL","f":1.9025,"o":-44.0},
{"s":"10 μL","f":1.708,"o":-60.6},{"s":"10 μL","f":1.7125,"o":-59.0},{"s":"10 μL","f":1.7175,"o":-57.6},{"s":"10 μL","f":1.7225,"o":-56.6},{"s":"10 μL","f":1.7275,"o":-54.2},{"s":"10 μL","f":1.7325,"o":-53.3},{"s":"10 μL","f":1.7375,"o":-51.7},{"s":"10 μL","f":1.7425,"o":-51.4},{"s":"10 μL","f":1.7475,"o":-51.9},{"s":"10 μL","f":1.7525,"o":-51.3},{"s":"10 μL","f":1.7575,"o":-51.9},{"s":"10 μL","f":1.7625,"o":-52.2},{"s":"10 μL","f":1.7675,"o":-54.0},{"s":"10 μL","f":1.7725,"o":-54.2},{"s":"10 μL","f":1.7775,"o":-54.6},{"s":"10 μL","f":1.7825,"o":-53.4},{"s":"10 μL","f":1.7875,"o":-52.8},{"s":"10 μL","f":1.7925,"o":-49.7},{"s":"10 μL","f":1.7975,"o":-47.0},{"s":"10 μL","f":1.8025,"o":-44.2},{"s":"10 μL","f":1.8075,"o":-42.9},{"s":"10 μL","f":1.8125,"o":-40.9},{"s":"10 μL","f":1.8175,"o":-40.3},{"s":"10 μL","f":1.8225,"o":-40.3},{"s":"10 μL","f":1.8275,"o":-39.3},{"s":"10 μL","f":1.8325,"o":-39.8},{"s":"10 μL","f":1.8375,"o":-39.8},{"s":"10 μL","f":1.8425,"o":-40.7},{"s":"10 μL","f":1.8475,"o":-40.1},{"s":"10 μL","f":1.8525,"o":-40.9},{"s":"10 μL","f":1.8575,"o":-41.0},{"s":"10 μL","f":1.8625,"o":-41.2},{"s":"10 μL","f":1.8675,"o":-42.5},{"s":"10 μL","f":1.8725,"o":-42.5},{"s":"10 μL","f":1.8775,"o":-43.4},{"s":"10 μL","f":1.8825,"o":-44.1},{"s":"10 μL","f":1.8875,"o":-43.9},{"s":"10 μL","f":1.8925,"o":-44.7},{"s":"10 μL","f":1.8975,"o":-44.5},{"s":"10 μL","f":1.9025,"o":-45.5},
{"s":"20 μL","f":1.708,"o":-58.7},{"s":"20 μL","f":1.7125,"o":-56.5},{"s":"20 μL","f":1.7175,"o":-55.9},{"s":"20 μL","f":1.7225,"o":-54.3},{"s":"20 μL","f":1.7275,"o":-54.1},{"s":"20 μL","f":1.7325,"o":-52.3},{"s":"20 μL","f":1.7375,"o":-51.1},{"s":"20 μL","f":1.7425,"o":-50.1},{"s":"20 μL","f":1.7475,"o":-47.8},{"s":"20 μL","f":1.7525,"o":-46.6},{"s":"20 μL","f":1.7575,"o":-44.6},{"s":"20 μL","f":1.7625,"o":-44.2},{"s":"20 μL","f":1.7675,"o":-42.7},{"s":"20 μL","f":1.7725,"o":-42.3},{"s":"20 μL","f":1.7775,"o":-41.3},{"s":"20 μL","f":1.7825,"o":-41.7},{"s":"20 μL","f":1.7875,"o":-40.9},{"s":"20 μL","f":1.7925,"o":-40.4},{"s":"20 μL","f":1.7975,"o":-40.9},{"s":"20 μL","f":1.8025,"o":-40.4},{"s":"20 μL","f":1.8075,"o":-40.7},{"s":"20 μL","f":1.8125,"o":-40.3},{"s":"20 μL","f":1.8175,"o":-41.3},{"s":"20 μL","f":1.8225,"o":-40.8},{"s":"20 μL","f":1.8275,"o":-40.9},{"s":"20 μL","f":1.8325,"o":-41.6},{"s":"20 μL","f":1.8375,"o":-42.1},{"s":"20 μL","f":1.8425,"o":-42.0},{"s":"20 μL","f":1.8475,"o":-42.1},{"s":"20 μL","f":1.8525,"o":-43.0},{"s":"20 μL","f":1.8575,"o":-42.8},{"s":"20 μL","f":1.8625,"o":-43.5},{"s":"20 μL","f":1.8675,"o":-43.5},{"s":"20 μL","f":1.8725,"o":-44.7},{"s":"20 μL","f":1.8775,"o":-44.7},{"s":"20 μL","f":1.8825,"o":-44.9},{"s":"20 μL","f":1.8875,"o":-45.9},{"s":"20 μL","f":1.8925,"o":-45.9},{"s":"20 μL","f":1.8975,"o":-46.7},{"s":"20 μL","f":1.9025,"o":-46.7},
{"s":"30 μL","f":1.708,"o":-55.6},{"s":"30 μL","f":1.7125,"o":-54.6},{"s":"30 μL","f":1.7175,"o":-52.4},{"s":"30 μL","f":1.7225,"o":-51.3},{"s":"30 μL","f":1.7275,"o":-48.8},{"s":"30 μL","f":1.7325,"o":-47.4},{"s":"30 μL","f":1.7375,"o":-44.9},{"s":"30 μL","f":1.7425,"o":-43.8},{"s":"30 μL","f":1.7475,"o":-43.3},{"s":"30 μL","f":1.7525,"o":-41.9},{"s":"30 μL","f":1.7575,"o":-41.7},{"s":"30 μL","f":1.7625,"o":-40.8},{"s":"30 μL","f":1.7675,"o":-41.2},{"s":"30 μL","f":1.7725,"o":-40.6},{"s":"30 μL","f":1.7775,"o":-41.1},{"s":"30 μL","f":1.7825,"o":-40.7},{"s":"30 μL","f":1.7875,"o":-41.6},{"s":"30 μL","f":1.7925,"o":-41.2},{"s":"30 μL","f":1.7975,"o":-41.6},{"s":"30 μL","f":1.8025,"o":-41.3},{"s":"30 μL","f":1.8075,"o":-42.1},{"s":"30 μL","f":1.8125,"o":-41.6},{"s":"30 μL","f":1.8175,"o":-41.8},{"s":"30 μL","f":1.8225,"o":-42.4},{"s":"30 μL","f":1.8275,"o":-42.0},{"s":"30 μL","f":1.8325,"o":-42.8},{"s":"30 μL","f":1.8375,"o":-42.7},{"s":"30 μL","f":1.8425,"o":-43.4},{"s":"30 μL","f":1.8475,"o":-42.8},{"s":"30 μL","f":1.8525,"o":-43.4},{"s":"30 μL","f":1.8575,"o":-43.4},{"s":"30 μL","f":1.8625,"o":-43.6},{"s":"30 μL","f":1.8675,"o":-44.8},{"s":"30 μL","f":1.8725,"o":-44.8},{"s":"30 μL","f":1.8775,"o":-45.6},{"s":"30 μL","f":1.8825,"o":-46.2},{"s":"30 μL","f":1.8875,"o":-45.9},{"s":"30 μL","f":1.8925,"o":-46.7},{"s":"30 μL","f":1.8975,"o":-46.4},{"s":"30 μL","f":1.9025,"o":-47.2},
{"s":"40 μL","f":1.708,"o":-50.1},{"s":"40 μL","f":1.7125,"o":-48.7},{"s":"40 μL","f":1.7175,"o":-48.4},{"s":"40 μL","f":1.7225,"o":-46.7},{"s":"40 μL","f":1.7275,"o":-46.0},{"s":"40 μL","f":1.7325,"o":-44.1},{"s":"40 μL","f":1.7375,"o":-43.4},{"s":"40 μL","f":1.7425,"o":-43.1},{"s":"40 μL","f":1.7475,"o":-41.9},{"s":"40 μL","f":1.7525,"o":-41.8},{"s":"40 μL","f":1.7575,"o":-40.9},{"s":"40 μL","f":1.7625,"o":-41.6},{"s":"40 μL","f":1.7675,"o":-41.0},{"s":"40 μL","f":1.7725,"o":-41.5},{"s":"40 μL","f":1.7775,"o":-40.9},{"s":"40 μL","f":1.7825,"o":-41.8},{"s":"40 μL","f":1.7875,"o":-41.4},{"s":"40 μL","f":1.7925,"o":-41.2},{"s":"40 μL","f":1.7975,"o":-41.9},{"s":"40 μL","f":1.8025,"o":-41.6},{"s":"40 μL","f":1.8075,"o":-42.0},{"s":"40 μL","f":1.8125,"o":-41.6},{"s":"40 μL","f":1.8175,"o":-42.6},{"s":"40 μL","f":1.8225,"o":-42.1},{"s":"40 μL","f":1.8275,"o":-42.3},{"s":"40 μL","f":1.8325,"o":-43.1},{"s":"40 μL","f":1.8375,"o":-43.5},{"s":"40 μL","f":1.8425,"o":-43.1},{"s":"40 μL","f":1.8475,"o":-42.9},{"s":"40 μL","f":1.8525,"o":-43.7},{"s":"40 μL","f":1.8575,"o":-43.5},{"s":"40 μL","f":1.8625,"o":-44.3},{"s":"40 μL","f":1.8675,"o":-44.4},{"s":"40 μL","f":1.8725,"o":-45.6},{"s":"40 μL","f":1.8775,"o":-45.5},{"s":"40 μL","f":1.8825,"o":-45.6},{"s":"40 μL","f":1.8875,"o":-46.6},{"s":"40 μL","f":1.8925,"o":-46.6},{"s":"40 μL","f":1.8975,"o":-47.3},{"s":"40 μL","f":1.9025,"o":-47.1},
{"s":"50 μL","f":1.708,"o":-44.1},{"s":"50 μL","f":1.7125,"o":-44.3},{"s":"50 μL","f":1.7175,"o":-43.4},{"s":"50 μL","f":1.7225,"o":-43.8},{"s":"50 μL","f":1.7275,"o":-42.9},{"s":"50 μL","f":1.7325,"o":-43.0},{"s":"50 μL","f":1.7375,"o":-41.6},{"s":"50 μL","f":1.7425,"o":-41.3},{"s":"50 μL","f":1.7475,"o":-41.6},{"s":"50 μL","f":1.7525,"o":-40.9},{"s":"50 μL","f":1.7575,"o":-41.1},{"s":"50 μL","f":1.7625,"o":-40.5},{"s":"50 μL","f":1.7675,"o":-41.2},{"s":"50 μL","f":1.7725,"o":-40.6},{"s":"50 μL","f":1.7775,"o":-41.1},{"s":"50 μL","f":1.7825,"o":-40.6},{"s":"50 μL","f":1.7875,"o":-41.5},{"s":"50 μL","f":1.7925,"o":-41.1},{"s":"50 μL","f":1.7975,"o":-41.5},{"s":"50 μL","f":1.8025,"o":-41.2},{"s":"50 μL","f":1.8075,"o":-42.0},{"s":"50 μL","f":1.8125,"o":-41.5},{"s":"50 μL","f":1.8175,"o":-41.7},{"s":"50 μL","f":1.8225,"o":-42.3},{"s":"50 μL","f":1.8275,"o":-41.9},{"s":"50 μL","f":1.8325,"o":-42.7},{"s":"50 μL","f":1.8375,"o":-42.6},{"s":"50 μL","f":1.8425,"o":-43.3},{"s":"50 μL","f":1.8475,"o":-42.7},{"s":"50 μL","f":1.8525,"o":-43.3},{"s":"50 μL","f":1.8575,"o":-43.3},{"s":"50 μL","f":1.8625,"o":-43.5},{"s":"50 μL","f":1.8675,"o":-44.7},{"s":"50 μL","f":1.8725,"o":-44.7},{"s":"50 μL","f":1.8775,"o":-45.5},{"s":"50 μL","f":1.8825,"o":-46.1},{"s":"50 μL","f":1.8875,"o":-45.8},{"s":"50 μL","f":1.8925,"o":-46.6},{"s":"50 μL","f":1.8975,"o":-46.3},{"s":"50 μL","f":1.9025,"o":-47.1}
],
"bl_loc": [{"x":0,"lo":-3,"hi":3,"band":"location variation"},{"x":20,"lo":17,"hi":23,"band":"location variation"}],
"bl_sig": [{"x":0,"y":0,"lo":-0.4,"hi":0.3,"band":"signal variation"},{"x":2.5,"y":2.8,"lo":2.4,"hi":3.2,"band":"signal variation"},{"x":5,"y":5.6,"lo":5.2,"hi":6.0,"band":"signal variation"},{"x":7.5,"y":8.4,"lo":7.8,"hi":9.0,"band":"signal variation"},{"x":10,"y":11.3,"lo":10.6,"hi":12.0,"band":"signal variation"},{"x":12.5,"y":13.4,"lo":12.6,"hi":14.1,"band":"signal variation"},{"x":15,"y":15.1,"lo":14.3,"hi":15.6,"band":"signal variation"},{"x":17.5,"y":17.4,"lo":16.9,"hi":17.8,"band":"signal variation"},{"x":20,"y":19.7,"lo":19.5,"hi":19.9,"band":"signal variation"}],
"bl_ideal": [{"x":0,"y":0},{"x":20,"y":20}],
"bl_err": [{"x":0,"y":0,"lo":-0.4,"hi":0.3},{"x":10,"y":11.3,"lo":10.6,"hi":12.0},{"x":20,"y":19.7,"lo":19.5,"hi":19.9}],
"br_band": [{"x":0,"lo":-3,"hi":3},{"x":60,"lo":57,"hi":63}],
"br_ideal": [{"x":0,"y":0},{"x":60,"y":60}],
"br_pts": [{"x":0,"y":0},{"x":10,"y":11.6},{"x":20,"y":19.2},{"x":30,"y":32.6},{"x":40,"y":37.0},{"x":50,"y":52.8}],
"br_box": [{"x1":-1.6,"x2":22.2,"y1":-3.2,"y2":25.2}],
"br_conn": [{"xa":-30.5,"ya":60,"xb":-1.6,"yb":25.2},{"xa":-30.5,"ya":-10,"xb":-1.6,"yb":-3.2}]
},
"bounds": "flush",
"spacing": 401.7,
"resolve": {"legend": {"color": "independent", "fill": "independent", "stroke": "independent"}},
"vconcat": [
{
 "bounds": "flush",
 "spacing": 0,
 "resolve": {"legend": {"color": "independent", "fill": "independent", "stroke": "independent"}},
 "hconcat": [
  {"width": 28.2, "height": 255, "data": {"values": []}, "mark": "point"},
  {
   "bounds": "flush",
   "spacing": 128.2,
   "resolve": {"legend": {"color": "independent", "fill": "independent", "stroke": "independent"}},
   "hconcat": [
    {
     "width": 226, "height": 255,
     "title": {"text": "a", "anchor": "start", "frame": "group", "dx": -65.5, "offset": 10, "fontSize": 22, "fontWeight": "normal", "font": "Liberation Sans", "color": "#000", "baseline": "alphabetic"},
     "layer": [
      {"data": {"name": "tl"},
       "mark": {"type": "point", "shape": "circle", "filled": false, "size": 20, "strokeWidth": 0.9, "opacity": 1},
       "encoding": {
        "x": {"field": "f", "type": "quantitative", "scale": {"domain": [0.85, 0.9546], "nice": false, "zero": false}, "axis": {"values": [0.85, 0.9, 0.95], "format": "~g", "title": "Frequency (GHz)", "labelPadding": 12, "titleY": 37.5, "titleBaseline": "middle"}},
        "y": {"field": "o", "type": "quantitative", "scale": {"domain": [-22.91, 1.845], "nice": false, "zero": false}, "axis": {"values": [-20, -15, -10, -5, 0], "format": "~g", "title": "RSSIf (dBm)", "labelPadding": 10.5, "titleX": -59, "titleY": 118, "titleAngle": 270, "titleAlign": "center", "titleBaseline": "middle"}},
        "stroke": {"field": "s", "type": "nominal", "scale": {"domain": ["0 μL", "10 μL", "20 μL", "30 μL", "40 μL", "50 μL"], "range": ["#0000FF", "#FF0000", "#008000", "#00FFFF", "#FF00FF", "#000000"]}, "legend": null}
       }},
      {"data": {"name": "tlm"},
       "mark": {"type": "point", "shape": "circle", "filled": false, "size": 20, "strokeWidth": 0.9, "opacity": 1},
       "encoding": {
        "x": {"field": "f", "type": "quantitative", "title": "Frequency (GHz)"},
        "y": {"field": "o", "type": "quantitative", "title": "RSSIf (dBm)"},
        "stroke": {"field": "s", "type": "nominal", "legend": null}
       }},
      {"data": {"name": "tl"},
       "mark": {"type": "line", "strokeWidth": 1.4, "interpolate": "monotone"},
       "encoding": {
        "x": {"field": "f", "type": "quantitative", "title": "Frequency (GHz)"},
        "y": {"field": "y", "type": "quantitative", "title": "RSSIf (dBm)"},
        "stroke": {"field": "s", "type": "nominal", "legend": null}
       }}
     ]
    },
    {
     "width": 443, "height": 255,
     "layer": [
      {"data": {"name": "tr"},
       "mark": {"type": "point", "shape": "circle", "filled": false, "size": 20, "strokeWidth": 0.9, "opacity": 1},
       "encoding": {
        "x": {"field": "f", "type": "quantitative", "scale": {"domain": [1.7, 1.906], "nice": false, "zero": false}, "axis": {"values": [1.7, 1.75, 1.8, 1.85, 1.9], "format": "~g", "title": "Frequency (GHz)", "labelPadding": 12, "titleY": 37.5, "titleBaseline": "middle"}},
        "y": {"field": "o", "type": "quantitative", "scale": {"domain": [-62.91, -38.155], "nice": false, "zero": false}, "axis": {"values": [-60, -55, -50, -45, -40], "format": "~g", "title": "RSSI2f (dBm)", "labelPadding": 10.5, "titleX": -57.7, "titleAngle": 270, "titleAlign": "center", "titleBaseline": "middle"}},
        "color": {"field": "s", "type": "nominal"}
       }},
      {"data": {"name": "trm"},
       "mark": {"type": "point", "shape": "circle", "filled": false, "size": 20, "strokeWidth": 0.9, "opacity": 1},
       "encoding": {
        "x": {"field": "f", "type": "quantitative", "title": "Frequency (GHz)"},
        "y": {"field": "o", "type": "quantitative", "title": "RSSI2f (dBm)"},
        "color": {"field": "s", "type": "nominal"}
       }},
      {"data": {"name": "tr"},
       "mark": {"type": "line", "strokeWidth": 1.4, "interpolate": "monotone"},
       "encoding": {
        "x": {"field": "f", "type": "quantitative", "title": "Frequency (GHz)"},
        "y": {"field": "y", "type": "quantitative", "title": "RSSI2f (dBm)"},
        "color": {"field": "s", "type": "nominal", "scale": {"domain": ["0 μL", "10 μL", "20 μL", "30 μL", "40 μL", "50 μL"], "range": ["#0000FF", "#FF0000", "#008000", "#00FFFF", "#FF00FF", "#000000"]},
         "legend": {"orient": "none", "legendX": 324.3, "legendY": 103, "title": null, "padding": 0, "symbolType": "M-1,0H3.4", "symbolSize": 400, "symbolStrokeWidth": 2, "symbolFillColor": "transparent", "labelOffset": 29, "rowPadding": 5.3, "labelFont": "Liberation Sans", "labelFontSize": 17, "labelFontWeight": "bold", "labelColor": "#000", "labelBaseline": "middle"}}
       }},
      {"data": {"values": [{"f": 1.7805, "v1": -62.91, "v2": -31.5}]},
       "mark": {"type": "rule", "color": "#7AA6DD", "strokeWidth": 3, "strokeDash": [10, 6]},
       "encoding": {"x": {"field": "f", "type": "quantitative"}, "y": {"field": "v1", "type": "quantitative"}, "y2": {"field": "v2"}}},
      {"data": {"values": [{"f": 1.8239, "v": -37.35}]},
       "mark": {"type": "point", "filled": true, "opacity": 1, "color": "#7FB9DA", "strokeWidth": 0, "size": 9487, "shape": "M-1,0L-0.575,-0.277L-0.575,-0.171L1,-0.171L1,0.171L-0.575,0.171L-0.575,0.277Z"},
       "encoding": {"x": {"field": "f", "type": "quantitative"}, "y": {"field": "v", "type": "quantitative"}}},
      {"data": {"values": [{"f": 1.745, "v": -37.43}]},
       "mark": {"type": "point", "filled": true, "opacity": 1, "color": "#88C2DD", "strokeWidth": 0, "size": 16129, "shape": "M1,-0.102L0.811,-0.008L0.496,0.087L0.15,0.118L-0.165,0.071L-0.449,-0.039L-0.559,-0.134L-0.386,-0.323L-1,-0.339L-0.89,0.26L-0.732,0.071L-0.528,0.197L-0.213,0.307L0.181,0.339L0.575,0.244L0.858,0.087Z"},
       "encoding": {"x": {"field": "f", "type": "quantitative"}, "y": {"field": "v", "type": "quantitative"}}},
      {"data": {"values": [{"t": "Slope Shift", "f": 1.7341, "v": -34.27}, {"t": "Peak Shift", "f": 1.8318, "v": -34.27}]},
       "mark": {"type": "text", "font": "Liberation Sans", "fontSize": 27.5, "fontWeight": "bold", "fontStyle": "italic", "align": "center", "baseline": "alphabetic", "color": "#000"},
       "encoding": {"x": {"field": "f", "type": "quantitative"}, "y": {"field": "v", "type": "quantitative"}, "text": {"field": "t"}}}
     ]
    }
   ]
  }
 ]
},
{
 "bounds": "flush",
 "spacing": 116,
 "resolve": {"legend": {"color": "independent", "fill": "independent", "stroke": "independent"}},
 "hconcat": [
  {
   "width": 316, "height": 290.3,
   "title": {"text": "b", "anchor": "start", "frame": "group", "dx": -38.6, "offset": 23, "fontSize": 22, "fontWeight": "normal", "font": "Liberation Sans", "color": "#000", "baseline": "alphabetic"},
   "resolve": {"axis": {"x": "independent", "y": "independent"}},
   "layer": [
    {"data": {"name": "bl_loc"},
     "mark": {"type": "area", "opacity": 1, "stroke": "#F29A9A", "strokeWidth": 0.8},
     "encoding": {
      "x": {"field": "x", "type": "quantitative", "scale": {"domain": [-1.96, 22.1], "nice": false, "zero": false}, "axis": {"orient": "bottom", "values": [0, 5, 10, 15, 20], "format": "d", "title": "Liquid Volume (μL)", "labelFontSize": 19, "labelPadding": 12, "titleY": 38.5, "titleBaseline": "middle"}},
      "y": {"field": "lo", "type": "quantitative", "scale": {"domain": [-3.03, 23.05], "nice": false, "zero": false}, "axis": {"orient": "left", "values": [0, 5, 10, 15, 20], "format": "d", "title": "Readout (μL)", "labelFontSize": 19, "labelPadding": 11.3, "titleX": -46.3, "titleAngle": 270, "titleAlign": "center", "titleBaseline": "middle"}},
      "y2": {"field": "hi"},
      "fill": {"field": "band", "type": "nominal", "scale": {"domain": ["signal variation", "location variation"], "range": ["#C8C8F7", "#F9C9C9"]},
       "legend": {"orient": "none", "legendX": 114.7, "legendY": 216.3, "title": null, "strokeColor": "#000", "fillColor": "#fff", "padding": 6, "cornerRadius": 0, "symbolType": "M-1,-1H2.79V1H-1Z", "symbolSize": 361, "symbolStrokeWidth": 0, "symbolOpacity": 1, "labelOffset": 22, "rowPadding": 9, "labelFont": "Liberation Sans", "labelFontSize": 19, "labelFontWeight": "bold", "labelColor": "#000", "labelBaseline": "middle"}}
     }},
    {"data": {"name": "bl_ideal"},
     "mark": {"type": "line", "color": "#E83030", "strokeWidth": 1.2, "strokeDash": [9, 6]},
     "encoding": {
      "x": {"field": "x", "type": "quantitative", "axis": {"orient": "top", "values": [0, 5, 10, 15, 20], "labels": false, "title": null}},
      "y": {"field": "y", "type": "quantitative", "axis": {"orient": "right", "values": [0, 5, 10, 15, 20], "labels": false, "title": null}}
     }},
    {"data": {"name": "bl_sig"},
     "mark": {"type": "area", "opacity": 1, "stroke": "#7B7BEA", "strokeWidth": 0.7},
     "encoding": {
      "x": {"field": "x", "type": "quantitative", "axis": null},
      "y": {"field": "lo", "type": "quantitative", "axis": null},
      "y2": {"field": "hi"},
      "fill": {"field": "band", "type": "nominal"}
     }},
    {"data": {"name": "bl_sig"},
     "mark": {"type": "line", "color": "#0000FF", "strokeWidth": 1.3},
     "encoding": {"x": {"field": "x", "type": "quantitative", "axis": null}, "y": {"field": "y", "type": "quantitative", "axis": null}}},
    {"data": {"name": "bl_err"},
     "mark": {"type": "rule", "color": "#0000FF", "strokeWidth": 1.3},
     "encoding": {"x": {"field": "x", "type": "quantitative", "axis": null}, "y": {"field": "lo", "type": "quantitative", "axis": null}, "y2": {"field": "hi"}}},
    {"data": {"name": "bl_err"},
     "mark": {"type": "tick", "orient": "horizontal", "color": "#0000FF", "size": 7, "thickness": 1.3, "opacity": 1},
     "encoding": {"x": {"field": "x", "type": "quantitative", "axis": null}, "y": {"field": "lo", "type": "quantitative", "axis": null}}},
    {"data": {"name": "bl_err"},
     "mark": {"type": "tick", "orient": "horizontal", "color": "#0000FF", "size": 7, "thickness": 1.3, "opacity": 1},
     "encoding": {"x": {"field": "x", "type": "quantitative", "axis": null}, "y": {"field": "hi", "type": "quantitative", "axis": null}}},
    {"data": {"name": "bl_err"},
     "mark": {"type": "point", "shape": "circle", "filled": false, "size": 16, "strokeWidth": 1.1, "color": "#0000FF", "opacity": 1},
     "encoding": {"x": {"field": "x", "type": "quantitative", "axis": null}, "y": {"field": "y", "type": "quantitative", "axis": null}}}
   ]
  },
  {
   "width": 395.4, "height": 290.6,
   "resolve": {"axis": {"x": "independent", "y": "independent"}},
   "layer": [
    {"data": {"name": "br_band"},
     "mark": {"type": "area", "opacity": 1, "fill": "#F9C9C9", "stroke": "#F29A9A", "strokeWidth": 0.8, "clip": true},
     "encoding": {
      "x": {"field": "x", "type": "quantitative", "scale": {"domain": [-9.9, 60], "nice": false, "zero": false}, "axis": {"orient": "bottom", "values": [0, 20, 40, 60], "format": "d", "title": "Liquid Volume (μL)", "labelFontSize": 19, "labelPadding": 12, "titleY": 38.5, "titleBaseline": "middle"}},
      "y": {"field": "lo", "type": "quantitative", "scale": {"domain": [-10, 60], "nice": false, "zero": false}, "axis": {"orient": "left", "values": [-10, 0, 10, 20, 30, 40, 50, 60], "format": "d", "title": "Readout (μL)", "labelFontSize": 19, "labelPadding": 13.3, "titleX": -51.3, "titleAngle": 270, "titleAlign": "center", "titleBaseline": "middle"}},
      "y2": {"field": "hi"}
     }},
    {"data": {"name": "br_ideal"},
     "mark": {"type": "line", "color": "#E83030", "strokeWidth": 1.2, "strokeDash": [9, 6]},
     "encoding": {
      "x": {"field": "x", "type": "quantitative", "axis": {"orient": "top", "values": [0, 20, 40, 60], "labels": false, "title": null}},
      "y": {"field": "y", "type": "quantitative", "axis": {"orient": "right", "values": [-10, 0, 10, 20, 30, 40, 50, 60], "labels": false, "title": null}}
     }},
    {"data": {"name": "br_box"},
     "mark": {"type": "rect", "fillOpacity": 0, "stroke": "#7BA7DD", "strokeWidth": 3, "strokeDash": [12, 7]},
     "encoding": {"x": {"field": "x1", "type": "quantitative", "axis": null}, "x2": {"field": "x2"}, "y": {"field": "y1", "type": "quantitative", "axis": null}, "y2": {"field": "y2"}}},
    {"data": {"name": "br_conn"},
     "mark": {"type": "rule", "color": "#7BA7DD", "strokeWidth": 3, "strokeDash": [12, 7]},
     "encoding": {"x": {"field": "xa", "type": "quantitative", "axis": null}, "y": {"field": "ya", "type": "quantitative", "axis": null}, "x2": {"field": "xb"}, "y2": {"field": "yb"}}},
    {"data": {"name": "br_pts"},
     "mark": {"type": "point", "shape": "triangle-down", "filled": false, "size": 55, "strokeWidth": 1.2, "color": "#0000FF", "opacity": 1},
     "encoding": {"x": {"field": "x", "type": "quantitative", "axis": null}, "y": {"field": "y", "type": "quantitative", "axis": null}}}
   ]
  }
 ]
}
]
}
